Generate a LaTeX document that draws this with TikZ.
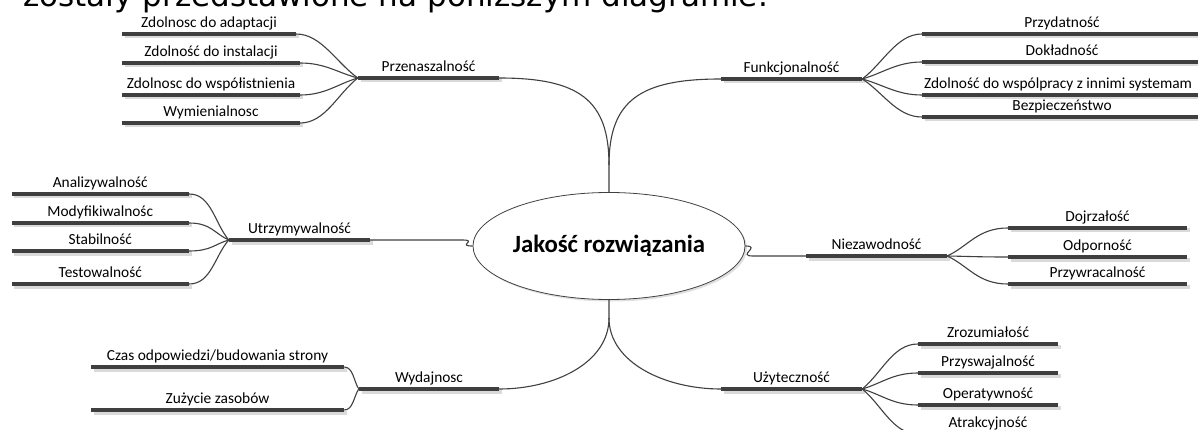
\documentclass[tikz,border=0pt]{standalone}
\usepackage{fontspec}
\setmainfont{Carlito}
\newfontfamily\topfont{DejaVu Sans}
\usetikzlibrary{shapes.geometric,shadows,calc}
\definecolor{bardark}{HTML}{3F3F3F}
\definecolor{barshadow}{HTML}{DADADA}
\definecolor{connc}{HTML}{404040}
\newcommand\mmfan[3]{\draw[conn] (#1) .. controls ($(#1)+(#3,0)$) and ($(#2)!0.35!(#1)$) .. (#2);}
\tikzset{
  bar/.style={rectangle, fill=bardark, minimum height=4pt, inner sep=0pt, minimum width=#1,
    general shadow={fill=barshadow, shadow xshift=2.5pt, shadow yshift=-2.5pt}},
  lbl/.style={font=\fontsize{15.4}{18}\selectfont, inner sep=0pt, text height=11pt, text depth=3.4pt, label distance=0.6pt},
  conn/.style={draw=connc, line width=1.1pt},
  core/.style={ellipse, draw=connc, line width=0.8pt, fill=white, minimum width=226pt, minimum height=107pt,
    inner sep=0pt, font=\bfseries\fontsize{24.8}{28}\selectfont,
    general shadow={fill=black!12, shadow xshift=2pt, shadow yshift=-2pt}},
  intro/.style={font=\topfont\fontsize{31}{36}\selectfont, inner sep=0pt, anchor=base east}
}
\begin{document}
\begin{tikzpicture}[x=1pt,y=-1pt]
\useasboundingbox (0,0) rectangle (1198,430);
\clip (0,0) rectangle (1198,430);
\fill[white] (0,0) rectangle (1198,430);

\node[intro] (intro) at (768,7) {zostały przedstawione na poniższym diagramie.};

% central node
\node[core] (core) at (609,246) {Jakość rozwiązania};

% main branches
\node[bar=141pt, label={[lbl]above:Przenaszalność}] (przen) at (428.5,78) {};
\node[bar=141pt, label={[lbl]above:Funkcjonalność}] (funk) at (791.5,79) {};
\node[bar=141pt, label={[lbl]above:Utrzymywalność}] (utrz) at (299.5,240) {};
\node[bar=141pt, label={[lbl]above:Niezawodność}] (niez) at (876.5,256) {};
\node[bar=140pt, label={[lbl]above:Wydajnosc}] (wyd) at (429,389) {};
\node[bar=141pt, label={[lbl]above:Użyteczność}] (uzyt) at (791.5,389) {};

% Przenaszalnosc children
\node[bar=174pt, label={[lbl]above:Zdolnosc do adaptacji}] (adapt) at (209,34) {};
\node[bar=178pt, label={[lbl]above:Zdolność do instalacji}] (inst) at (211,63) {};
\node[bar=178pt, label={[lbl]above:Zdolnosc do współistnienia}] (wspist) at (211,95) {};
\node[bar=178pt, label={[lbl]above:Wymienialnosc}] (wymien) at (211,123) {};

% Funkcjonalnosc children
\node[bar=280pt, label={[lbl]above:Przydatność}] (przyd) at (1062,34) {};
\node[bar=280pt, label={[lbl]above:Dokładność}] (dokl) at (1062,62) {};
\node[bar=280pt] (wspol) at (1062,95) {};
\node[lbl, anchor=south west] (wspoltxt) at ($(wspol.north west)+(2,-0.6)$) {Zdolność do wspólpracy z innimi systemam};
\node[bar=280pt, label={[lbl]above:Bezpieczeństwo}] (bezp) at (1062,117) {};

% Utrzymywalnosc children
\node[bar=177.5pt, label={[lbl]above:Analizywalność}] (anal) at (100.25,194) {};
\node[bar=177.5pt, label={[lbl]above:Modyfikiwalnośc}] (modyf) at (100.25,223) {};
\node[bar=177.5pt, label={[lbl]above:Stabilność}] (stab) at (100.25,251) {};
\node[bar=177.5pt, label={[lbl]above:Testowalność}] (test) at (100.25,284) {};

% Niezawodnosc children
\node[bar=179pt, label={[lbl]above:Dojrzałość}] (dojrz) at (1097.5,228) {};
\node[bar=179pt, label={[lbl]above:Odporność}] (odp) at (1097.5,257) {};
\node[bar=179pt, label={[lbl]above:Przywracalność}] (przyw) at (1097.5,284) {};

% Wydajnosc children
\node[bar=253pt, label={[lbl]above:Czas odpowiedzi/budowania strony}] (czas) at (217.5,367) {};
\node[bar=253pt, label={[lbl]above:Zużycie zasobów}] (zuz) at (217.5,410) {};

% Uzytecznosc children
\node[bar=140pt, label={[lbl]above:Zrozumiałość}] (zroz) at (988,344) {};
\node[bar=140pt, label={[lbl]above:Przyswajalność}] (przysw) at (988,373) {};
\node[bar=140pt, label={[lbl]above:Operatywność}] (oper) at (988,405) {};
\node[bar=140pt, label={[lbl]above:Atrakcyjność}] (atrak) at (988,434) {};

% stems
\coordinate (topstem) at (609,165);
\coordinate (botstem) at (609,318);
\draw[conn] (przen.east) .. controls +(80,0) and +(0,-65) .. (topstem) -- (core.north);
\draw[conn] (funk.west) .. controls +(-80,0) and +(0,-65) .. (topstem);
\draw[conn] (core.south) -- (botstem) .. controls +(0,45) and +(-55,0) .. (uzyt.west);
\draw[conn] (botstem) .. controls +(0,45) and +(55,0) .. (wyd.east);
\draw[conn] (utrz.east) -- ++(92,0) .. controls +(16,0) and +(-16,0) .. (core.west);
\draw[conn] (core.east) .. controls +(16,0) and +(-16,0) .. ($(niez.west)+(-53,0)$) -- (niez.west);

% children connectors
\mmfan{adapt.east}{przen.west}{25}
\mmfan{inst.east}{przen.west}{25}
\mmfan{wspist.east}{przen.west}{25}
\mmfan{wymien.east}{przen.west}{25}

\mmfan{przyd.west}{funk.east}{-25}
\mmfan{dokl.west}{funk.east}{-25}
\mmfan{wspol.west}{funk.east}{-25}
\mmfan{bezp.west}{funk.east}{-25}

\mmfan{anal.east}{utrz.west}{22}
\mmfan{modyf.east}{utrz.west}{22}
\mmfan{stab.east}{utrz.west}{22}
\mmfan{test.east}{utrz.west}{22}

\mmfan{dojrz.west}{niez.east}{-30}
\mmfan{odp.west}{niez.east}{-30}
\mmfan{przyw.west}{niez.east}{-30}

\mmfan{czas.east}{wyd.west}{9}
\mmfan{zuz.east}{wyd.west}{9}

\mmfan{zroz.west}{uzyt.east}{-25}
\mmfan{przysw.west}{uzyt.east}{-25}
\mmfan{oper.west}{uzyt.east}{-25}
\mmfan{atrak.west}{uzyt.east}{-25}
\end{tikzpicture}
\end{document}
